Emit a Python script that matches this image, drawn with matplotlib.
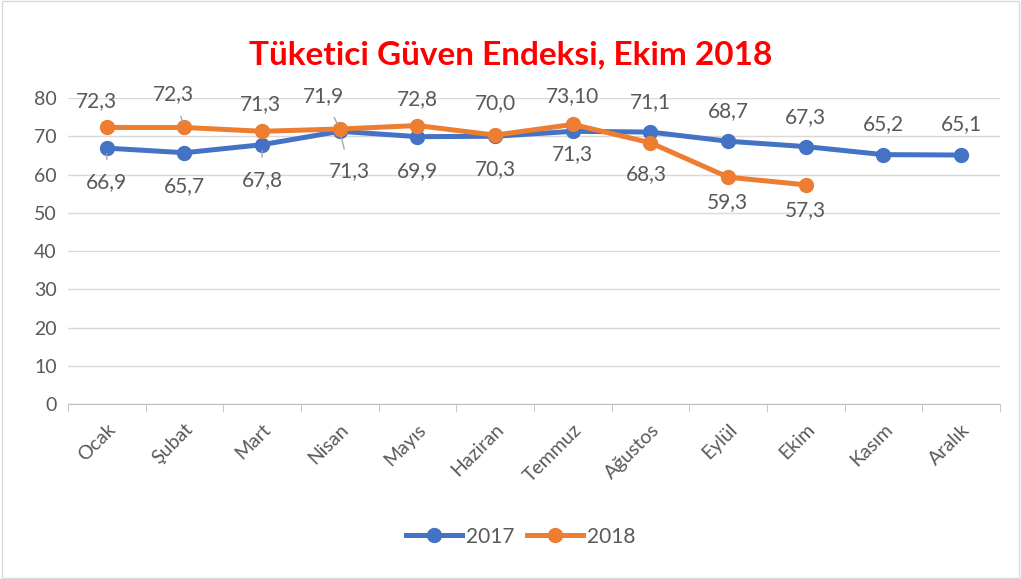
import matplotlib.pyplot as plt
from matplotlib.patches import Rectangle

months = ["Ocak", "Şubat", "Mart", "Nisan", "Mayıs", "Haziran", "Temmuz",
          "Ağustos", "Eylül", "Ekim", "Kasım", "Aralık"]
vals_2017 = [66.9, 65.7, 67.8, 71.3, 69.9, 70.0, 71.3, 71.1, 68.7, 67.3, 65.2, 65.1]
vals_2018 = [72.3, 72.3, 71.3, 71.9, 72.8, 70.3, 73.1, 68.3, 59.3, 57.3]
labels_2017 = ["66,9", "65,7", "67,8", "71,3", "69,9", "70,3", "71,3", "71,1",
               "68,7", "67,3", "65,2", "65,1"]
labels_2018 = ["72,3", "72,3", "71,3", "71,9", "72,8", "70,0", "73,10", "68,3",
               "59,3", "57,3"]

plt.rcParams['font.family'] = ['Lato', 'DejaVu Sans']
gray = '#595959'
blue = '#4472C4'
orange = '#ED7D31'

fig = plt.figure(figsize=(10.21, 5.79), dpi=100)
fig.patches.append(Rectangle((0.002, 0.002), 0.996, 0.996, transform=fig.transFigure,
                             fill=False, edgecolor='#d9d9d9', linewidth=1))
ax = fig.add_axes([0.0666, 0.3022, 0.9128, 0.5285])

x17 = list(range(len(vals_2017)))
x18 = list(range(len(vals_2018)))
ax.plot(x17, vals_2017, color=blue, lw=3.6, marker='o', ms=10, label='2017', zorder=3)
ax.plot(x18, vals_2018, color=orange, lw=3.6, marker='o', ms=10, label='2018', zorder=4)

# label offsets in pixels (dx, dy), and whether a leader line is drawn
off17 = [(0, -34), (0, -33), (0, -35), (10, -40), (0, -34), (0, -33), (0, -23),
         (0, 30), (0, 30), (0, 30), (0, 31), (0, 31)]
lead17 = [True, False, True, True] + [False] * 8
off18 = [(-10, 26), (-11, 33), (-2, 27), (-16, 33), (0, 26), (0, 32), (0, 28),
         (-4, -31), (-1, -25), (0, -25)]
lead18 = [False, True, False, True] + [False] * 6

def put_labels(xs, ys, labels, offs, leads):
    for x, y, t, (dx, dy), ld in zip(xs, ys, labels, offs, leads):
        ap = None
        if ld:
            ap = dict(arrowstyle='-', color='#a6a6a6', lw=1, shrinkA=7, shrinkB=4)
        ax.annotate(t, (x, y), xytext=(dx * 0.72, dy * 0.72), textcoords='offset points',
                    ha='center', va='center', fontsize=15, color=gray,
                    arrowprops=ap, zorder=5)

put_labels(x17, vals_2017, labels_2017, off17, lead17)
put_labels(x18, vals_2018, labels_2018, off18, lead18)

ax.set_xlim(-0.5, 11.5)
ax.set_ylim(0, 80)
ax.set_yticks(range(0, 81, 10))
ax.grid(axis='y', color='#d9d9d9', lw=1)
ax.set_axisbelow(True)
for s in ['top', 'right', 'left']:
    ax.spines[s].set_visible(False)
ax.spines['bottom'].set_color('#bfbfbf')
ax.tick_params(axis='y', length=0, labelsize=14, labelcolor=gray, pad=8)
ax.set_xticks(x17)
ax.set_xticklabels(months, rotation=45, ha='right', rotation_mode='anchor')
ax.set_xticks([i + 0.5 for i in range(-1, 12)], minor=True)
ax.tick_params(axis='x', which='major', length=0, labelsize=14, labelcolor=gray, pad=12)
ax.tick_params(axis='x', which='minor', length=6, color='#bfbfbf')

fig.suptitle("Tüketici Güven Endeksi, Ekim 2018", color='#FF0000', fontsize=24,
             fontweight='bold', y=0.93)
fig.legend(loc='center', bbox_to_anchor=(0.51, 0.073), ncol=2, frameon=False,
           fontsize=15, labelcolor=gray, handlelength=2.7, handletextpad=0.2,
           columnspacing=0.6)

fig.savefig('out.png', dpi=100)
